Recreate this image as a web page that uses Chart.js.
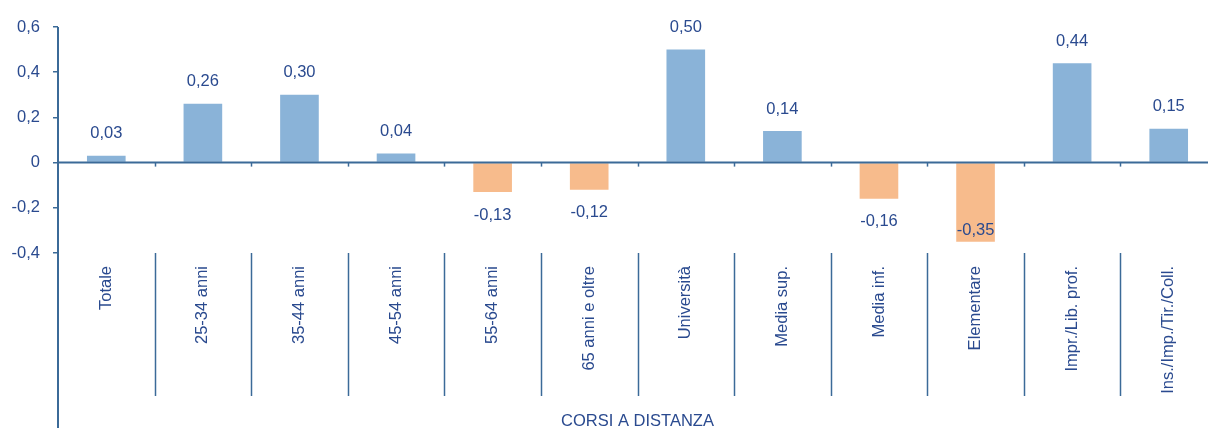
<!DOCTYPE html>
<html>
<head>
<meta charset="utf-8">
<script src="https://cdn.jsdelivr.net/npm/chart.js@4"></script>
<style>
  html, body { margin: 0; padding: 0; background: #fff; overflow: hidden; }
  #wrap { width: 1208px; height: 428px; overflow: hidden; }
</style>
</head>
<body>
<div id="wrap"><canvas id="chart1" width="1220" height="428"></canvas></div>
<script>
var categories = ['Totale', '25-34 anni', '35-44 anni', '45-54 anni', '55-64 anni', '65 anni e oltre',
  'Università', 'Media sup.', 'Media inf.', 'Elementare', 'Impr./Lib. prof.', 'Ins./Imp./Tir./Coll.'];
var values = [0.03, 0.26, 0.30, 0.04, -0.13, -0.12, 0.50, 0.14, -0.16, -0.35, 0.44, 0.15];
var yTicks = [-0.4, -0.2, 0, 0.2, 0.4, 0.6];
var axisTitle = 'CORSI A DISTANZA';

var textColor = '#2A4A8F';
var lineColor = '#3B6A98';
var blue = '#8AB3D8';
var orange = '#F7BB8C';
var fontFamily = '"Liberation Sans", Arial, sans-serif';

function fmt(v, d){
  if (v == 0) return '0';
  return v.toFixed(d).replace('.', ',');
}

// separators, zero line, axis line and value labels
var extras = {
  id: 'extras',
  afterDraw(chart){
    var ctx = chart.ctx;
    var area = chart.chartArea;
    var x = chart.scales.x;
    var y = chart.scales.y;
    var step = x.width / categories.length;
    var y0 = y.getPixelForValue(0);
    ctx.save();
    ctx.strokeStyle = lineColor;
    // zero line
    ctx.lineWidth = 2;
    ctx.beginPath();
    ctx.moveTo(area.left, y0);
    ctx.lineTo(area.right, y0);
    ctx.stroke();
    // y axis line down to the bottom
    ctx.beginPath();
    ctx.moveTo(area.left, area.top);
    ctx.lineTo(area.left, chart.height);
    ctx.stroke();
    ctx.lineWidth = 1.5;
    for (var i = 1; i < categories.length; i++){
      var bx = Math.round(area.left + i * step) + 0.5;
      ctx.beginPath();
      ctx.moveTo(bx, y0);
      ctx.lineTo(bx, y0 + 4);
      ctx.stroke();
      ctx.beginPath();
      ctx.moveTo(bx, area.bottom);
      ctx.lineTo(bx, area.bottom + 143);
      ctx.stroke();
    }
    // value labels
    var meta = chart.getDatasetMeta(0);
    ctx.fillStyle = textColor;
    ctx.font = '16.5px ' + fontFamily;
    ctx.textAlign = 'center';
    ctx.textBaseline = 'middle';
    meta.data.forEach(function(bar, i){
      var v = values[i];
      var ly;
      if (v >= 0) {
        ly = bar.y - 22;
      } else {
        ly = bar.y + 23;
        if (ly + 8 > area.bottom) ly = bar.y - 11;
      }
      ctx.fillText(fmt(v, 2), bar.x, ly);
    });
    ctx.restore();
  }
};

new Chart(document.getElementById('chart1'), {
  type: 'bar',
  data: {
    labels: categories,
    datasets: [{
      data: values,
      backgroundColor: values.map(v => v < 0 ? orange : blue),
      borderWidth: 0,
      categoryPercentage: 1,
      barPercentage: 0.4
    }]
  },
  options: {
    responsive: false,
    animation: false,
    layout: { padding: { top: 27, right: 3, left: 0, bottom: 0 } },
    plugins: { legend: { display: false }, tooltip: { enabled: false } },
    scales: {
      y: {
        min: -0.4,
        max: 0.6,
        afterFit: s => { s.width = 58; },
        afterBuildTicks: s => { s.ticks = yTicks.map(v => ({ value: v })); },
        border: { display: false },
        grid: { drawOnChartArea: false, drawTicks: true, tickLength: 5, color: lineColor, lineWidth: 1.5 },
        ticks: {
          padding: 13,
          color: textColor,
          font: { family: fontFamily, size: 16.5 },
          callback: v => fmt(v, 1)
        }
      },
      x: {
        afterFit: s => { s.height = 175; },
        border: { display: false },
        grid: { display: false },
        ticks: {
          minRotation: 90,
          maxRotation: 90,
          padding: 5,
          autoSkip: false,
          color: textColor,
          font: { family: fontFamily, size: 16.5 }
        },
        title: {
          display: true,
          text: axisTitle,
          color: textColor,
          padding: { top: 0, bottom: -3 },
          font: { family: fontFamily, size: 16.5 }
        }
      }
    }
  },
  plugins: [extras]
});
</script>
</body>
</html>
